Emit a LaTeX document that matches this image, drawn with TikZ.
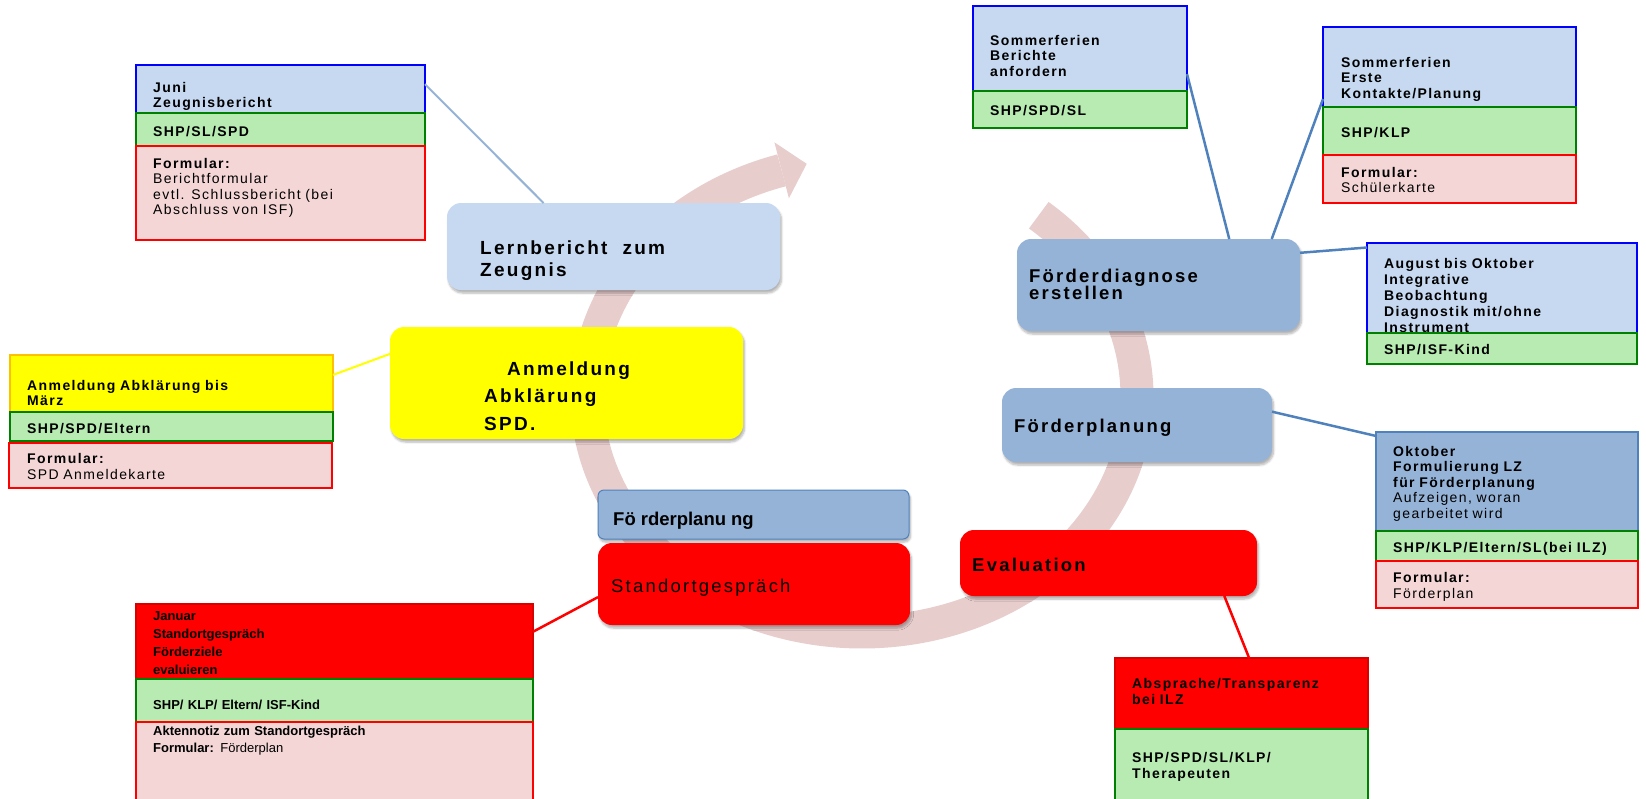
\documentclass[tikz,border=0pt]{standalone}
\usepackage{fontspec}
\setmainfont{Liberation Sans}
\newfontfamily\spS[LetterSpace=10]{Liberation Sans}
\newfontfamily\spL[LetterSpace=12]{Liberation Sans}
\usetikzlibrary{calc,shadows.blur}
\definecolor{lblue}{RGB}{198,217,241}
\definecolor{mblue}{RGB}{149,179,215}
\definecolor{dblue}{RGB}{79,129,189}
\definecolor{pblue}{RGB}{0,0,255}
\definecolor{lgreen}{RGB}{183,235,178}
\definecolor{dgreen}{RGB}{0,128,0}
\definecolor{dotred}{RGB}{245,214,214}
\definecolor{arcc}{RGB}{232,205,205}
\definecolor{yel}{RGB}{255,255,0}
\definecolor{ored}{RGB}{255,192,0}
\begin{document}
\begin{tikzpicture}[x=1pt,y=-1pt,
  cell/.style={draw, line width=1.3pt, inner sep=0pt, outer sep=0pt, anchor=north west},
  bluec/.style={cell, fill=lblue, draw=pblue},
  midc/.style={cell, fill=mblue, draw=dblue},
  greenc/.style={cell, fill=lgreen, draw=dgreen},
  dotc/.style={cell, fill=dotred, draw=red},
  redc/.style={cell, fill=red, draw=red!85!black},
  yelc/.style={cell, fill=yel, draw=ored},
  big/.style={rounded corners=14pt, inner sep=0pt, outer sep=0pt, anchor=north west,
    blur shadow={shadow xshift=1.5pt, shadow yshift=-3pt, shadow opacity=30, shadow blur steps=6}},
  tb/.style={anchor=base west, inner sep=0pt, align=left, text width=330pt,
    font=\spS\bfseries\fontsize{14}{15.8}\selectfont},
  tr/.style={anchor=base west, inner sep=0pt, align=left, text width=330pt,
    font=\spS\fontsize{14}{15.5}\selectfont},
  tj/.style={anchor=base west, inner sep=0pt, align=left, text width=380pt,
    font=\bfseries\fontsize{13}{18.3}\selectfont},
  tbig/.style={anchor=base west, inner sep=0pt, align=left, text width=330pt},
  conn/.style={line width=2.5pt}
]
\useasboundingbox (0,0) rectangle (1646,798);

% circular arrow
\draw[arcc, line width=33pt] plot[domain=-50:253, samples=150, smooth, variable=\t]
  ({862+275*cos(\t)},{396+236*sin(\t)});
\fill[arcc] (774.4,142.3) -- (806.7,163.8) -- (788.9,198.3) -- cycle;

% ---- small boxes ----
% Juni
\node[bluec, minimum width=289pt, minimum height=48pt] (juniB) at (136,65) {};
\node[tb] (juniT) at (153,92) {Juni\\Zeugnisbericht};
\node[greenc, minimum width=289pt, minimum height=33pt] (juniG) at (136,113) {};
\node[tb] (juniGT) at (153,136) {SHP/SL/SPD};
\node[dotc, minimum width=289pt, minimum height=94pt] (juniR) at (136,146) {};
\node[tr] (juniRT) at (153,168) {\textbf{Formular:}\\Berichtformular\\evtl. Schlussbericht (bei\\Abschluss von ISF)};

% Sommerferien Berichte
\node[bluec, minimum width=214pt, minimum height=85pt] (somberB) at (973,6) {};
\node[tb] (somberT) at (990,45) {Sommerferien\\Berichte\\anfordern};
\node[greenc, minimum width=214pt, minimum height=37pt] (somberG) at (973,91) {};
\node[tb] (somberGT) at (990,115) {SHP/SPD/SL};

% Sommerferien Erste
\node[bluec, minimum width=253pt, minimum height=80pt] (someB) at (1323,27) {};
\node[tb] (someT) at (1341,67) {Sommerferien\\Erste\\Kontakte/Planung};
\node[greenc, minimum width=253pt, minimum height=48pt] (someG) at (1323,107) {};
\node[tb] (someGT) at (1341,137) {SHP/KLP};
\node[dotc, minimum width=253pt, minimum height=48pt] (someR) at (1323,155) {};
\node[tr] (someRT) at (1341,177) {\textbf{Formular:}\\Schülerkarte};

% August
\node[bluec, minimum width=270pt, minimum height=90pt] (augB) at (1367,243) {};
\node[tb, font=\spS\bfseries\fontsize{14}{16.2}\selectfont] (augT) at (1384,268) {August bis Oktober\\Integrative\\Beobachtung\\Diagnostik mit/ohne\\Instrument};
\node[greenc, minimum width=270pt, minimum height=31pt] (augG) at (1367,333) {};
\node[tb] (augGT) at (1384,354) {SHP/ISF-Kind};

% Oktober
\node[midc, minimum width=262pt, minimum height=99pt] (oktB) at (1376,432) {};
\node[tr] (oktT) at (1393,456) {\textbf{Oktober}\\\textbf{Formulierung LZ}\\\textbf{für Förderplanung}\\Aufzeigen, woran\\gearbeitet wird};
\node[greenc, minimum width=262pt, minimum height=30pt] (oktG) at (1376,531) {};
\node[tb] (oktGT) at (1393,552) {SHP/KLP/Eltern/SL(bei ILZ)};
\node[dotc, minimum width=262pt, minimum height=47pt] (oktR) at (1376,561) {};
\node[tr, font=\spS\fontsize{14}{16}\selectfont] (oktRT) at (1393,582) {\textbf{Formular:}\\Förderplan};

% Anmeldung small
\node[yelc, minimum width=323pt, minimum height=57pt] (anmsB) at (10,355) {};
\node[tb, font=\spS\bfseries\fontsize{14}{15}\selectfont] (anmsT) at (27,390) {Anmeldung Abklärung bis\\März};
\node[greenc, minimum width=323pt, minimum height=29pt] (anmsG) at (10,412) {};
\node[tb] (anmsGT) at (27,433) {SHP/SPD/Eltern};
\node[dotc, minimum width=323pt, minimum height=45pt] (anmsR) at (9,443) {};
\node[tr, font=\spS\fontsize{14}{16}\selectfont] (anmsRT) at (27,463) {\textbf{Formular:}\\SPD Anmeldekarte};

% Januar
\node[redc, minimum width=397pt, minimum height=75pt] (janB) at (136,604) {};
\node[tj] (janT) at (153,620) {Januar\\Standortgespräch\\Förderziele\\evaluieren};
\node[greenc, minimum width=397pt, minimum height=43pt] (janG) at (136,679) {};
\node[tj] (janGT) at (153,709) {SHP/ KLP/ Eltern/ ISF-Kind};
\node[dotc, minimum width=397pt, minimum height=80pt] (janR) at (136,722) {};
\node[tj, font=\bfseries\fontsize{13}{17}\selectfont] (janRT) at (153,735) {Aktennotiz zum Standortgespräch\\Formular: \mdseries Förderplan};

% Absprache
\node[redc, minimum width=253pt, minimum height=71pt] (abspB) at (1115,658) {};
\node[tb, font=\spS\bfseries\fontsize{14}{16}\selectfont] (abspT) at (1132,688) {Absprache/Transparenz\\bei ILZ};
\node[greenc, minimum width=253pt, minimum height=75pt] (abspG) at (1115,729) {};
\node[tb, font=\spS\bfseries\fontsize{14}{16}\selectfont] (abspGT) at (1132,762) {SHP/SPD/SL/KLP/\\Therapeuten};

% ---- big process boxes ----
\node[big, minimum width=333pt, minimum height=87pt, fill=lblue] (lern) at (447,203) {};
\node[tbig, font=\spL\bfseries\fontsize{19}{22}\selectfont] (lernT) at (480,254) {Lernbericht\hspace{15pt}zum\\Zeugnis};

\node[big, minimum width=353pt, minimum height=112pt, fill=yel] (anm) at (390,327) {};
\node[tbig, font=\spL\bfseries\fontsize{19}{27.5}\selectfont] (anmT) at (484,375) {\hspace*{23pt}Anmeldung\\Abklärung\\SPD.};

\node[big, minimum width=283pt, minimum height=92pt, fill=mblue] (fd) at (1017,239) {};
\node[tbig, font=\spL\bfseries\fontsize{18.5}{17.7}\selectfont] (fdT) at (1029,282) {Förderdiagnose\\erstellen};

\node[big, minimum width=270pt, minimum height=74pt, fill=mblue] (fpr) at (1002,388) {};
\node[tbig, font=\spL\bfseries\fontsize{18.5}{20}\selectfont] (fprT) at (1014,432) {Förderplanung};

\node[big, minimum width=297pt, minimum height=66pt, fill=red] (eval) at (960,530) {};
\node[tbig, font=\spL\bfseries\fontsize{18.5}{20}\selectfont] (evalT) at (972,571) {Evaluation};

\node[big, rounded corners=6pt, minimum width=311pt, minimum height=49pt, fill=mblue, draw=dblue, line width=1pt] (fps) at (598,490) {};
\node[tbig, font=\bfseries\fontsize{18.5}{20}\selectfont] (fpsT) at (613,525) {Fö\hspace{5pt}rderplanu\hspace{5pt}ng};

\node[big, minimum width=312pt, minimum height=82pt, fill=red] (stand) at (598,543) {};
\node[tbig, font=\spL\fontsize{18.5}{20}\selectfont] (standT) at (611,592) {Standortgespräch};

% ---- connectors ----
\draw[mblue, line width=2pt] ($(juniB.north east)!0.4!(juniB.south east)$) -- ($(lern.north west)!0.29!(lern.north east)$);
\draw[yel, line width=2pt] ($(anmsB.north east)!0.35!(anmsB.south east)$) -- ($(anm.north west)!0.24!(anm.south west)$);
\draw[dblue, conn] ($(somberB.north east)!0.8!(somberB.south east)$) -- ($(fd.north west)!0.75!(fd.north east)$);
\draw[dblue, conn] ($(someB.north west)!0.9!(someB.south west)$) -- ($(fd.north west)!0.9!(fd.north east)$);
\draw[dblue, conn] ($(fd.north east)!0.15!(fd.south east)$) -- ($(augB.north west)!0.05!(augB.south west)$);
\draw[dblue, conn] ($(fpr.north east)!0.32!(fpr.south east)$) -- ($(oktB.north west)!0.04!(oktB.south west)$);
\draw[red, conn] ($(janB.north east)!0.37!(janB.south east)$) -- ($(stand.north west)!0.66!(stand.south west)$);
\draw[red, conn] ($(eval.south west)!0.89!(eval.south east)$) -- ($(abspB.north west)!0.53!(abspB.north east)$);
\end{tikzpicture}
\end{document}
